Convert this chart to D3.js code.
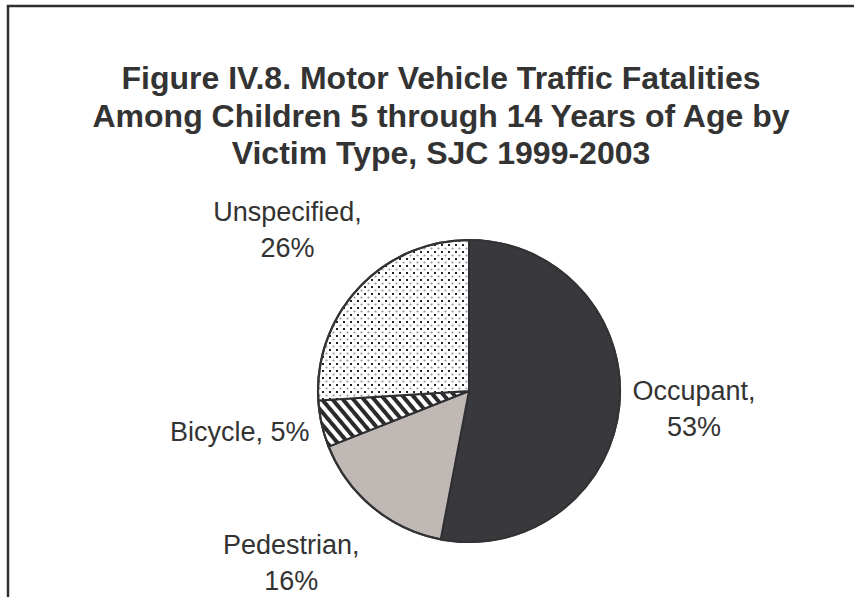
<!DOCTYPE html>
<html>
<head>
<meta charset="utf-8">
<script src="https://cdn.jsdelivr.net/npm/d3@7"></script>
<style>
  html, body { margin: 0; padding: 0; background: #fff; }
  svg { display: block; }
</style>
</head>
<body>
<svg id="chart" width="854" height="597"></svg>
<script>
// ---- data ----
const titleLines = [
  "Figure IV.8. Motor Vehicle Traffic Fatalities",
  "Among Children 5 through 14 Years of Age by",
  "Victim Type, SJC 1999-2003"
];
const categories = ["Occupant", "Pedestrian", "Bicycle", "Unspecified"];
const values = [53, 16, 5, 26];

// ---- layout ----
const W = 854, H = 597;
const cx = 469, cy = 391, R = 151;
const svg = d3.select("#chart");
const defs = svg.append("defs");

// stripes pattern (bicycle)
const stripe = defs.append("pattern")
  .attr("id", "stripes").attr("patternUnits", "userSpaceOnUse")
  .attr("width", 8).attr("height", 8)
  .attr("patternTransform", "rotate(-40)");
stripe.append("rect").attr("width", 8).attr("height", 8).attr("fill", "#fff");
stripe.append("rect").attr("x", 0).attr("width", 4).attr("height", 8).attr("fill", "#2b2b2e");

// dots pattern (unspecified)
const dots = defs.append("pattern")
  .attr("id", "dots").attr("patternUnits", "userSpaceOnUse")
  .attr("width", 7).attr("height", 7);
dots.append("rect").attr("width", 7).attr("height", 7).attr("fill", "#fff");
dots.append("rect").attr("x", 0).attr("y", 0).attr("width", 2).attr("height", 2).attr("fill", "#222");
dots.append("circle").attr("cx", 4.5).attr("cy", 4.5).attr("r", 1.1).attr("fill", "#9a9a9a");

const fills = d3.scaleOrdinal()
  .domain(categories)
  .range(["#39383d", "#c0b8b5", "url(#stripes)", "url(#dots)"]);

// border (runs off right and bottom edges)
svg.append("rect")
  .attr("x", 8).attr("y", 6)
  .attr("width", W + 20).attr("height", H + 20)
  .attr("fill", "none").attr("stroke", "#2f2f33").attr("stroke-width", 2.5);

// title
svg.append("g").selectAll("text")
  .data(titleLines).join("text")
  .attr("x", 441)
  .attr("y", (d, i) => 89 + i * 37.5)
  .attr("text-anchor", "middle")
  .attr("font-family", "'Liberation Sans', Arial, sans-serif")
  .attr("font-weight", "bold")
  .attr("font-size", 32)
  .attr("fill", "#333")
  .text(d => d);

// pie
const data = categories.map((c, i) => ({ name: c, value: values[i] }));
const pie = d3.pie().sort(null).value(d => d.value);
const arcs = pie(data);
const arc = d3.arc().innerRadius(0).outerRadius(R);

const g = svg.append("g").attr("transform", `translate(${cx},${cy})`);
g.selectAll("path.slice")
  .data(arcs).join("path")
  .attr("class", "slice")
  .attr("d", arc)
  .attr("fill", d => fills(d.data.name))
  .attr("stroke", d => d.data.name === "Occupant" ? "#39383d" : "#2f2f33")
  .attr("stroke-width", 2)
  .attr("stroke-linejoin", "round");
// outer outline
g.append("circle").attr("r", R).attr("fill", "none")
  .attr("stroke", "#333").attr("stroke-width", 2.2);

// labels
const labelArc = d3.arc().innerRadius(238).outerRadius(238);
const nudge = { Occupant: [-12, -5], Pedestrian: [-26, -12], Bicycle: [3, -11], Unspecified: [-8, 1] };
const labelFont = "'Liberation Sans', Arial, sans-serif";
arcs.forEach(d => {
  const [x0, y0] = labelArc.centroid(d);
  const [nx, ny] = nudge[d.data.name];
  const x = x0 + nx, y = y0 + ny;
  const t = g.append("text")
    .attr("text-anchor", "middle")
    .attr("font-family", labelFont)
    .attr("font-size", 27)
    .attr("fill", "#333");
  if (d.data.name === "Bicycle") {
    t.append("tspan").attr("x", x).attr("y", y + 9.5)
      .text(`${d.data.name}, ${d.data.value}%`);
  } else {
    t.append("tspan").attr("x", x).attr("y", y - 18 + 9.5).text(`${d.data.name},`);
    t.append("tspan").attr("x", x).attr("y", y + 18 + 9.5).text(`${d.data.value}%`);
  }
});
</script>
</body>
</html>
